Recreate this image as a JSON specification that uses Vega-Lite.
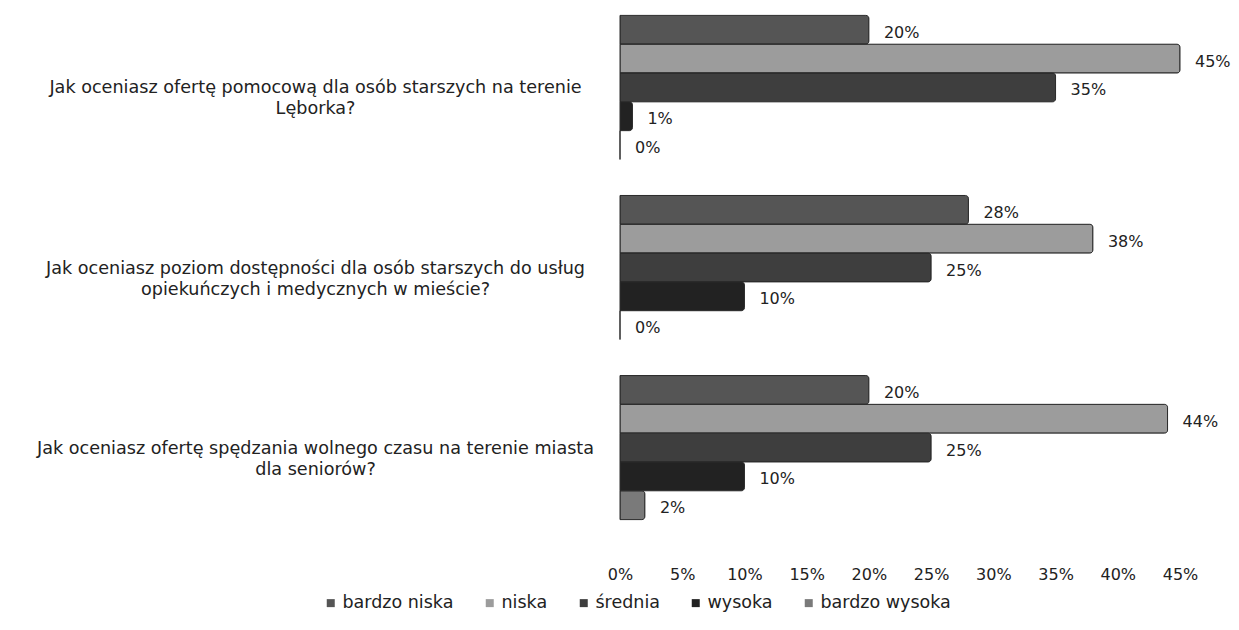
{
  "$schema": "https://vega.github.io/schema/vega-lite/v6.json",
  "autosize": "none",
  "width": 560,
  "height": 515,
  "padding": {"left": 620, "top": 10, "right": 59, "bottom": 105},
  "background": "white",
  "config": {"view": {"stroke": null}, "font": "DejaVu Sans"},
  "data": {"values": [
    {"q": "Jak oceniasz ofertę pomocową dla osób starszych na terenie|Lęborka?", "kat": "bardzo niska", "v": 0.20},
    {"q": "Jak oceniasz ofertę pomocową dla osób starszych na terenie|Lęborka?", "kat": "niska", "v": 0.45},
    {"q": "Jak oceniasz ofertę pomocową dla osób starszych na terenie|Lęborka?", "kat": "średnia", "v": 0.35},
    {"q": "Jak oceniasz ofertę pomocową dla osób starszych na terenie|Lęborka?", "kat": "wysoka", "v": 0.01},
    {"q": "Jak oceniasz ofertę pomocową dla osób starszych na terenie|Lęborka?", "kat": "bardzo wysoka", "v": 0.0},
    {"q": "Jak oceniasz poziom dostępności dla osób starszych do usług|opiekuńczych i medycznych w mieście?", "kat": "bardzo niska", "v": 0.28},
    {"q": "Jak oceniasz poziom dostępności dla osób starszych do usług|opiekuńczych i medycznych w mieście?", "kat": "niska", "v": 0.38},
    {"q": "Jak oceniasz poziom dostępności dla osób starszych do usług|opiekuńczych i medycznych w mieście?", "kat": "średnia", "v": 0.25},
    {"q": "Jak oceniasz poziom dostępności dla osób starszych do usług|opiekuńczych i medycznych w mieście?", "kat": "wysoka", "v": 0.10},
    {"q": "Jak oceniasz poziom dostępności dla osób starszych do usług|opiekuńczych i medycznych w mieście?", "kat": "bardzo wysoka", "v": 0.0},
    {"q": "Jak oceniasz ofertę spędzania wolnego czasu na terenie miasta|dla seniorów?", "kat": "bardzo niska", "v": 0.20},
    {"q": "Jak oceniasz ofertę spędzania wolnego czasu na terenie miasta|dla seniorów?", "kat": "niska", "v": 0.44},
    {"q": "Jak oceniasz ofertę spędzania wolnego czasu na terenie miasta|dla seniorów?", "kat": "średnia", "v": 0.25},
    {"q": "Jak oceniasz ofertę spędzania wolnego czasu na terenie miasta|dla seniorów?", "kat": "wysoka", "v": 0.10},
    {"q": "Jak oceniasz ofertę spędzania wolnego czasu na terenie miasta|dla seniorów?", "kat": "bardzo wysoka", "v": 0.02}
  ]},
  "encoding": {
    "y": {
      "field": "q", "type": "nominal", "sort": null, "title": null,
      "scale": {"paddingInner": 0.2, "paddingOuter": 0.03},
      "axis": {
        "domain": false, "ticks": false, "labelAlign": "center", "labelPadding": 305,
        "labelExpr": "split(datum.label, '|')", "labelLimit": 0, "labelFontSize": 17.6,
        "labelColor": "#222", "labelLineHeight": 21, "labelBaseline": "middle", "labelOffset": 1
      }
    },
    "yOffset": {"field": "kat", "type": "nominal", "sort": ["bardzo niska", "niska", "średnia", "wysoka", "bardzo wysoka"], "scale": {"paddingInner": 0, "paddingOuter": 0}},
    "x": {
      "field": "v", "type": "quantitative", "title": null,
      "scale": {"domain": [0, 0.45], "nice": false},
      "axis": {
        "values": [0, 0.05, 0.1, 0.15, 0.2, 0.25, 0.3, 0.35, 0.4, 0.45], "format": ".0%",
        "domain": false, "ticks": false, "grid": false, "labelPadding": 41,
        "labelFontSize": 16, "labelColor": "#222", "labelFlush": false
      }
    }
  },
  "layer": [
    {
      "mark": {"type": "bar", "stroke": "#2a2a2a", "strokeWidth": 1, "cornerRadiusEnd": 3},
      "encoding": {
        "color": {
          "field": "kat", "type": "nominal", "sort": ["bardzo niska", "niska", "średnia", "wysoka", "bardzo wysoka"],
          "scale": {"domain": ["bardzo niska", "niska", "średnia", "wysoka", "bardzo wysoka"], "range": ["#555555", "#9c9c9c", "#3e3e3e", "#222222", "#7a7a7a"]},
          "legend": {
            "title": null, "orient": "none", "direction": "horizontal", "legendX": -298, "legendY": 584,
            "symbolType": "square", "symbolSize": 64, "symbolStrokeWidth": 0, "labelFontSize": 17.5,
            "labelColor": "#222", "columnPadding": 27, "labelOffset": 3
          }
        }
      }
    },
    {
      "mark": {"type": "text", "align": "left", "baseline": "middle", "dx": 15, "dy": 3, "fontSize": 16, "font": "DejaVu Sans", "color": "#222"},
      "encoding": {"text": {"field": "v", "type": "quantitative", "format": ".0%"}}
    }
  ]
}
